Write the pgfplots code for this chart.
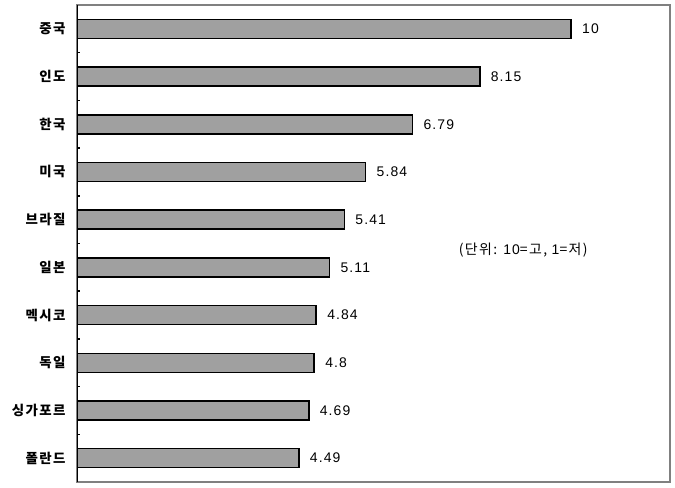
\documentclass[border=0pt]{standalone}
\usepackage{pgfplots}
\pgfplotsset{compat=1.18}
\usepackage{fontspec}
\setmainfont{Noto Sans CJK KR}
\newfontfamily\korfont[LetterSpace=10]{Noto Sans CJK KR}
\newfontfamily\numfont[LetterSpace=8]{Liberation Sans}
\definecolor{barfill}{RGB}{160,160,160}
\definecolor{framegray}{RGB}{128,128,128}
\begin{document}
\begin{tikzpicture}[x=1bp,y=1bp]
\begin{axis}[
    scale only axis,
    width=593bp, height=477bp,
    xbar, bar width=19bp,
    xmin=0, xmax=12,
    ymin=0.5, ymax=10.5,
    y dir=reverse,
    xtick=\empty,
    ytick={1,...,10},
    ytick pos=left,
    yticklabels={중국,인도,한국,미국,브라질,일본,멕시코,독일,싱가포르,폴란드},
    major tick length=0pt,
    minor ytick={0.5,1.5,...,10.5},
    minor tick length=3bp,
    tick align=inside,
    minor tick style={black, line width=1.5bp},
    axis line style={framegray, line width=1.2bp},
    yticklabel style={font=\korfont\bfseries\fontsize{13.5}{15}\selectfont, xshift=-8bp},
    nodes near coords={\pgfmathprintnumber[fixed, precision=2]{\pgfplotspointmeta}},
    every node near coord/.append style={font=\numfont\fontsize{14}{16}\selectfont, anchor=west, xshift=7bp},
    /pgf/number format/assume math mode=true,
]
    \addplot[fill=barfill, draw=black, line width=1.5bp] coordinates {
        (10,1) (8.15,2) (6.79,3) (5.84,4) (5.41,5)
        (5.11,6) (4.84,7) (4.8,8) (4.69,9) (4.49,10)
    };
    \draw[black, line width=2bp] (rel axis cs:0,0) -- (rel axis cs:0,1);
    \node[font=\korfont\fontsize{14}{16}\selectfont] at (axis cs:9.03,5.63) {(단위: {\numfont 10}=고, {\numfont 1}=저)};
\end{axis}
\path (current axis.south west) ++(-77bp,-6bp) coordinate (bl);
\path (current axis.north east) ++(5bp,5bp) coordinate (tr);
\useasboundingbox (bl) rectangle (tr);
\end{tikzpicture}
\end{document}
